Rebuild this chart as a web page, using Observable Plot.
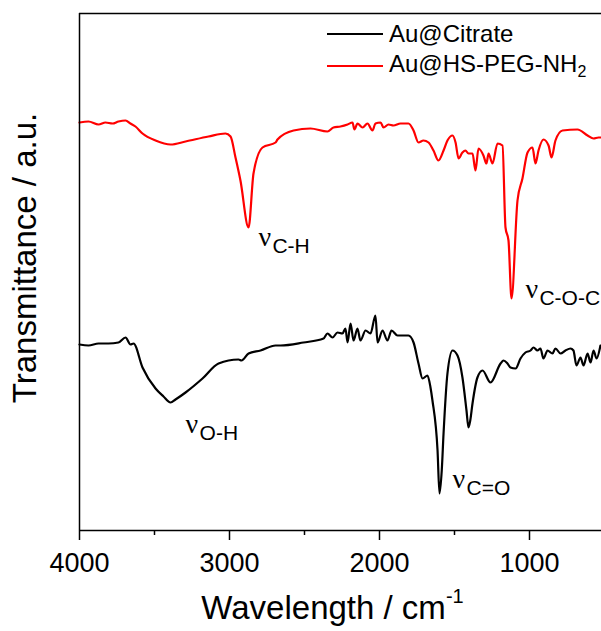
<!DOCTYPE html>
<html><head><meta charset="utf-8">
<script src="https://cdn.jsdelivr.net/npm/d3@7"></script>
<script src="https://cdn.jsdelivr.net/npm/@observablehq/plot@0.6"></script>
<style>
body{margin:0;background:#fff;}
#wrap{position:relative;width:601px;height:631px;font-family:"Liberation Sans",Arial,sans-serif;}
.leg{position:absolute;left:327px;display:flex;align-items:center;font-size:24px;color:#000;white-space:nowrap;line-height:1;}
.sw{width:56px;height:2px;margin-right:6px;}
.leg sub{font-size:16px;vertical-align:-5px;}
</style></head><body><div id="wrap"></div>
<script>
// Au@Citrate spectrum (wavenumber cm-1, transmittance a.u.)
const citrateWn = [4000,3940,3873,3807,3740,3693,3660,3640,3580,3493,3440,3393,3360,3293,3180,3073,2940,2920,2873,2793,2693,2660,2507,2373,2347,2313,2280,2247,2227,2213,2193,2173,2147,2127,2093,2060,2027,2013,1980,1947,1920,1880,1807,1773,1740,1713,1680,1660,1647,1613,1600,1585,1573,1547,1513,1480,1447,1420,1407,1395,1380,1347,1313,1260,1193,1173,1147,1127,1093,1060,1027,993,973,947,927,907,880,847,827,793,760,727,707,687,660,640,613,593,573,553,527];
const citrateT  = [186,185,187,187,188,193,186,187,163,142,134,128,131,138,152,167,171,170,177,180,185,185,188,192,197,193,198,197,202,188,207,190,202,190,200,197,215,188,200,190,200,195,195,188,167,152,155,143,130,80,37,60,97,157,180,175,153,120,103,110,127,153,160,148,167,170,167,163,162,172,178,180,183,180,182,172,180,177,182,177,180,182,180,165,173,165,177,168,180,172,185];
// Au@HS-PEG-NH2 spectrum
const pegWn = [4000,3940,3873,3827,3780,3740,3693,3660,3627,3580,3493,3393,3293,3140,3027,2993,2960,2927,2873,2840,2780,2693,2680,2573,2460,2347,2307,2260,2213,2180,2167,2147,2113,2080,2047,2027,1993,1973,1940,1907,1860,1807,1773,1740,1707,1673,1640,1607,1573,1547,1513,1493,1473,1447,1427,1407,1380,1360,1340,1307,1287,1273,1247,1213,1180,1160,1140,1120,1080,1047,1013,980,960,940,907,873,853,827,780,680,613,573,540,527];
const pegT  = [408,409,406,408,407,409,410,407,404,397,390,386,389,394,397,394,373,350,303,357,383,388,391,400,402,399,403,404,406,408,401,407,403,407,400,407,408,403,406,405,407,407,400,388,390,388,380,370,380,390,395,388,372,378,380,377,377,360,382,375,367,377,367,387,385,303,290,232,330,352,378,383,367,380,391,385,373,390,400,401,395,392,393,393];
const seriesNames = ["Au@Citrate", "Au@HS-PEG-NH2"];
const seriesColors = ["#000000", "#ff0000"];
const majorTicks = [4000, 3000, 2000, 1000];
const minorTicks = [3500, 2500, 1500];
const annoWn = [2807, 1027, 3293, 1513];
const annoT = [285, 233, 98, 43];
const annoSub = ["C-H", "C-O-C", "O-H", "C=O"];

const citrate = citrateWn.map((w, i) => ({wn: w, t: citrateT[i]}));
const peg = pegWn.map((w, i) => ({wn: w, t: pegT[i]}));
const annos = annoWn.map((w, i) => ({wn: w, t: annoT[i], sub: annoSub[i]}));

const chart = Plot.plot({
  width: 601, height: 631,
  marginLeft: 79, marginRight: 0, marginTop: 13, marginBottom: 101,
  style: {fontFamily: "Liberation Sans, Arial, sans-serif", background: "white", overflow: "visible", color: "black"},
  x: {domain: [4000, 520], axis: null},
  y: {domain: [0, 517], axis: null},
  marks: [
    Plot.line(citrate, {x: "wn", y: "t", stroke: seriesColors[0], strokeWidth: 2.2, strokeLinejoin: "round", curve: "monotone-x"}),
    Plot.line(peg, {x: "wn", y: "t", stroke: seriesColors[1], strokeWidth: 2.2, strokeLinejoin: "round", curve: "monotone-x"}),
    Plot.ruleX([4000], {stroke: "black", strokeWidth: 1.5}),
    Plot.ruleY([517], {stroke: "black", strokeWidth: 1.5}),
    Plot.ruleY([0], {stroke: "black", strokeWidth: 1.5}),
    Plot.axisX({ticks: majorTicks, tickSize: 10, tickPadding: 12, fontSize: 27, tickFormat: d => String(d), label: null, strokeWidth: 1.5}),
    Plot.axisX({ticks: minorTicks, tickSize: 5, tickFormat: () => "", label: null, strokeWidth: 1.5}),
    Plot.text(annos, {x: "wn", y: "t", text: () => "ν", textAnchor: "start", lineAnchor: "bottom", fontSize: 28, fontFamily: "Liberation Serif, serif"}),
    Plot.text(annos, {x: "wn", y: "t", text: "sub", textAnchor: "start", lineAnchor: "bottom", dx: 14, dy: 7, fontSize: 21}),
    Plot.text(["Transmittance / a.u."], {frameAnchor: "left", textAnchor: "middle", rotate: -90, dx: -54, dy: -14, fontSize: 33}),
    Plot.text(["Wavelength / cm"], {frameAnchor: "bottom", textAnchor: "middle", dy: 88, dx: -8, fontSize: 33})
  ]
});
// superscript on the axis title
d3.select(chart).selectAll("text").filter(function(){ return this.textContent === "Wavelength / cm"; })
  .each(function(){ d3.select(this).append("tspan").attr("font-size", 20).attr("dy", "-0.8em").text("-1"); });

const wrap = document.getElementById("wrap");
wrap.appendChild(chart);
seriesNames.forEach((name, i) => {
  const d = document.createElement("div");
  d.className = "leg";
  d.style.top = (i === 0 ? 22 : 52) + "px";
  const sw = document.createElement("span");
  sw.className = "sw"; sw.style.background = seriesColors[i];
  d.appendChild(sw);
  const t = document.createElement("span");
  t.innerHTML = name.replace(/NH2$/, "NH<sub>2</sub>");
  d.appendChild(t);
  wrap.appendChild(d);
});
</script>
</body></html>
